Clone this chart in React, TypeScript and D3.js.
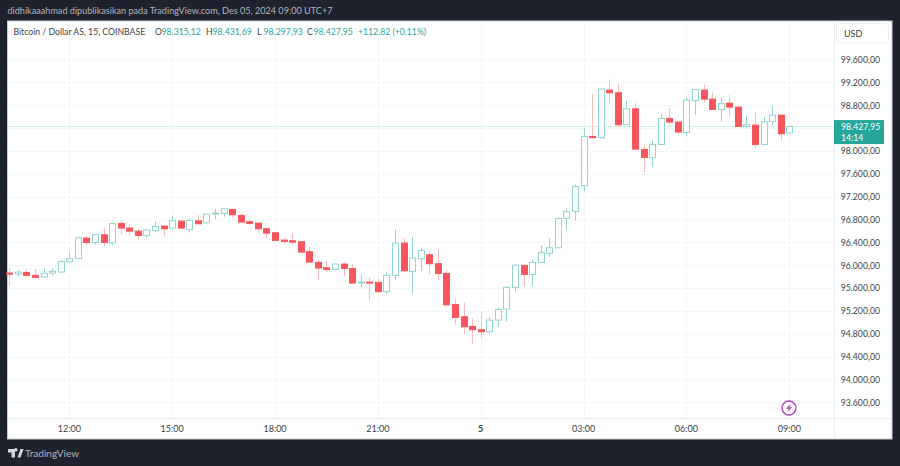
import { formatLocale, range, scaleLinear, select } from "d3";
import { useEffect, useRef } from "react";

const opens = [95863,95846,95875,95823,95793,95863,95881,96062,96120,96476,96400,96534,96394,96733,96651,96598,96523,96604,96686,96651,96773,96628,96779,96744,96902,96908,96978,96873,96762,96738,96639,96569,96441,96429,96412,96237,96050,95957,95928,96021,95945,95694,95706,95700,95537,95823,96388,95893,96114,96184,96027,95858,95315,95099,94930,94872,94837,95041,95233,95613,95998,95840,96050,96208,96307,96820,96943,97392,98255,98232,99066,99019,98459,98739,98028,97882,98115,98570,98506,98325,98885,99066,98908,98728,98838,98768,98430,98453,98115,98518,98628,98315.12];
const highs = [95945,95916,95939,95939,95951,95957,96073,96225,96488,96511,96546,96645,96738,96779,96721,96639,96633,96768,96698,96873,96779,96814,96878,96902,96989,97001,96983,96908,96808,96750,96663,96575,96488,96558,96418,96336,96097,96068,96033,96062,96021,95840,95788,95764,95875,96628,96470,96499,96313,96254,96278,95916,95414,95344,95070,95192,95099,95262,95636,96015,96003,96097,96353,96470,96832,96995,97409,98395,98996,99095,99253,99183,98891,98838,98121,98191,98669,98745,98512,98938,99083,99165,99025,98949,98978,98792,98617,98675,98599,98792,98634,98431.69];
const lows = [95636,95799,95799,95776,95782,95817,95858,96056,96114,96359,96365,96336,96359,96540,96534,96453,96493,96581,96511,96639,96633,96575,96715,96721,96808,96849,96838,96744,96715,96558,96470,96429,96383,96359,96225,96050,95741,95881,95916,95811,95682,95613,95391,95519,95507,95741,95881,95496,95898,95840,95741,95274,94965,94796,94621,94732,94796,94918,95023,95537,95624,95636,96044,96149,96301,96610,96779,97298,98225,98225,98815,98413,98453,98028,97625,97724,98109,98453,98308,98267,98628,98844,98722,98512,98611,98424,98389,98057,98109,98453,98173,98297.93];
const closes = [95852,95881,95823,95788,95858,95893,96068,96114,96482,96400,96540,96400,96733,96651,96598,96523,96616,96680,96639,96779,96651,96785,96727,96896,96913,96989,96884,96756,96733,96639,96563,96435,96418,96406,96231,96056,95951,95928,96021,95945,95688,95706,95700,95537,95823,96388,95904,96126,96260,96027,95858,95309,95087,94924,94872,94837,95041,95227,95613,96003,95840,96050,96219,96307,96820,96937,97381,98255,98232,99083,99019,98459,98739,98033,97888,98115,98570,98506,98331,98891,99078,98908,98728,98833,98768,98430,98459,98115,98512,98628,98302,98427.95];

const priceTicks = [93600,94000,94400,94800,95200,95600,96000,96400,96800,97200,97600,98000,98400,98800,99200,99600];
// the last price tag sits on top of this one in the picture
const hiddenPriceLabel = 98400;
const timeTickBars = [7,19,31,43,55,67,79,91];
const timeTickLabels = ["12:00","15:00","18:00","21:00","5","03:00","06:00","09:00"];

const lastPrice = 98427.95;
const title = "didhikaaahmad dipublikasikan pada TradingView.com, Des 05, 2024 09:00 UTC+7";
const symbol = "Bitcoin / Dollar AS, 15, COINBASE";
const ohlcNames = ["O","H","L","C"];
const ohlcValues = ["98.315,12","98.431,69","98.297,93","98.427,95"];
const ohlcNameX = [155,206,257,307];
const change = "+112,82 (+0,11%)";

const width = 900;
const height = 466;
const font = "Lato, 'Noto Sans', sans-serif";
const teal = "#26a69a";
const tealLine = "#93d6ce";
const redBody = "#f6565c";
const redWick = "#f9bcbf";
const textColor = "#3b3f48";

const panel = { left: 7.5, top: 21, right: 892, bottom: 439, axisX: 834, axisY: 418 };

const locale = formatLocale({
  decimal: ",",
  thousands: ".",
  grouping: [3],
  currency: ["", ""],
});
const priceFormat = locale.format(",.2f");

export default function App() {
  const ref = useRef<SVGSVGElement>(null);

  useEffect(() => {
    if (!ref.current) return;
    const svg = select(ref.current);
    svg.selectAll("*").remove();

    const x = scaleLinear().domain([0, 91]).range([9.3, 789.3]);
    const y = scaleLinear().domain([93600, 99600]).range([402.4, 59.6]);
    const bars = range(opens.length);

    svg.append("rect").attr("width", width).attr("height", height).attr("fill", "#1e222d");
    svg.append("rect")
      .attr("x", panel.left)
      .attr("y", panel.top)
      .attr("width", panel.right - panel.left)
      .attr("height", panel.bottom - panel.top)
      .attr("fill", "#ffffff")
      .attr("stroke", "#c9ccd3");

    // grid
    svg.append("g").selectAll("line").data(priceTicks).join("line")
      .attr("x1", panel.left)
      .attr("x2", panel.axisX)
      .attr("y1", (d) => Math.round(y(d)) + 0.5)
      .attr("y2", (d) => Math.round(y(d)) + 0.5)
      .attr("stroke", "#f5f6f8");
    svg.append("g").selectAll("line").data(timeTickBars).join("line")
      .attr("x1", (d) => Math.round(x(d)) + 0.5)
      .attr("x2", (d) => Math.round(x(d)) + 0.5)
      .attr("y1", panel.top)
      .attr("y2", panel.axisY)
      .attr("stroke", "#f5f6f8");

    // axis borders
    svg.append("line")
      .attr("x1", panel.axisX + 0.5).attr("x2", panel.axisX + 0.5)
      .attr("y1", panel.top).attr("y2", panel.bottom)
      .attr("stroke", "#e9ebef");
    svg.append("line")
      .attr("x1", panel.left).attr("x2", panel.right)
      .attr("y1", panel.axisY + 0.5).attr("y2", panel.axisY + 0.5)
      .attr("stroke", "#e9ebef");

    // last price line
    svg.append("line")
      .attr("x1", panel.left).attr("x2", panel.axisX)
      .attr("y1", y(lastPrice)).attr("y2", y(lastPrice))
      .attr("stroke", "#a8ded8")
      .attr("stroke-dasharray", "1 1");

    // wicks
    svg.append("g").selectAll("line").data(bars).join("line")
      .attr("x1", (i) => Math.round(x(i)) + 0.5)
      .attr("x2", (i) => Math.round(x(i)) + 0.5)
      .attr("y1", (i) => y(highs[i]))
      .attr("y2", (i) => y(lows[i]))
      .attr("stroke", (i) => (closes[i] >= opens[i] ? tealLine : redWick));

    // bodies
    svg.append("g").selectAll("rect").data(bars).join("rect")
      .attr("x", (i) => Math.round(x(i)) + 0.5 - 3)
      .attr("width", 6)
      .attr("y", (i) => y(Math.max(opens[i], closes[i])))
      .attr("height", (i) => Math.max(1, Math.abs(y(opens[i]) - y(closes[i]))))
      .attr("fill", (i) => (closes[i] >= opens[i] ? "#ffffff" : redBody))
      .attr("stroke", (i) => (closes[i] >= opens[i] ? tealLine : redBody));

    const text = (tx: number, ty: number, s: string, fill: string, size = 9, anchor = "start") =>
      svg.append("text")
        .attr("x", tx)
        .attr("y", ty)
        .attr("fill", fill)
        .attr("font-family", font)
        .attr("font-size", size)
        .attr("text-anchor", anchor)
        .text(s);

    // price axis labels
    priceTicks.filter((p) => p !== hiddenPriceLabel).forEach((p) => {
      text(880, y(p) + 3.3, priceFormat(p), textColor, 8.7, "end");
    });

    // time axis labels
    timeTickBars.forEach((b, i) => {
      text(x(b), 432, timeTickLabels[i], textColor, 9, "middle")
        .attr("font-weight", timeTickLabels[i] === "5" ? 700 : 400);
    });

    // header and legend
    text(7.5, 14, title, "#b2b5be", 9.1);
    text(13.5, 35, symbol, textColor, 8.7);
    ohlcNames.forEach((n, i) => {
      text(ohlcNameX[i], 35, n, textColor, 8.7);
      text(ohlcNameX[i] + 6.5, 35, ohlcValues[i], teal, 8.7);
    });
    text(358, 35, change, teal, 8.7);

    // currency box
    svg.append("rect")
      .attr("x", 836.5).attr("y", 23.5)
      .attr("width", 52).attr("height", 19.5)
      .attr("rx", 3)
      .attr("fill", "#ffffff")
      .attr("stroke", "#eceef1");
    text(844, 36.5, "USD", textColor, 9);

    // last price tag
    svg.append("rect")
      .attr("x", 834).attr("y", y(lastPrice) - 6.5)
      .attr("width", 50).attr("height", 24)
      .attr("fill", teal);
    text(841, y(lastPrice) + 3.3, priceFormat(lastPrice), "#ffffff", 8.7);
    text(841, y(lastPrice) + 14.5, "14:14", "#ffffff", 8.7);

    // bolt icon
    const icon = svg.append("g").attr("transform", "translate(789,408)");
    icon.append("circle").attr("r", 7).attr("fill", "#ffffff").attr("stroke", "#ab47bc").attr("stroke-width", 1.4);
    icon.append("path").attr("d", "M1.5,-4.2L-3,0.8H-0.4L-1.5,4.2L3,-0.8H0.4Z").attr("fill", "#ab47bc");

    // footer logo
    svg.append("path")
      .attr("d", "M8,449H15V457.5H11.5V452.5H8ZM15.8,451.5a1.7,1.7 0 1 1 0.01,0ZM17.5,457.5L20.5,449H23.5L20.5,457.5Z")
      .attr("fill", "#d1d4dc");
    text(25, 456.5, "TradingView", "#b2b5be", 10);
  }, []);

  return (
    <svg
      ref={ref}
      width={width}
      height={height}
      style={{ position: "absolute", left: 0, top: 0, display: "block" }}
    />
  );
}
